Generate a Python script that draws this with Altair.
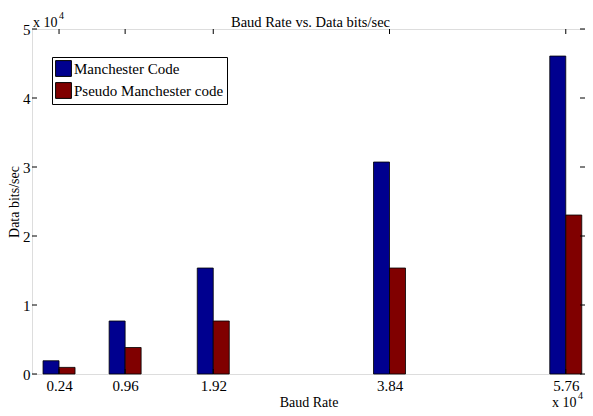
import altair as alt
import pandas as pd

baud_rate = [0.24, 0.96, 1.92, 3.84, 5.76]          # x 10^4
manchester = [0.192, 0.768, 1.536, 3.072, 4.608]    # x 10^4
pseudo = [0.096, 0.384, 0.768, 1.536, 2.304]        # x 10^4
series_names = ["Manchester Code", "Pseudo Manchester code"]
series_colors = ["#00008F", "#800000"]
y_ticks = [0, 1, 2, 3, 4, 5]
title_text = "Baud Rate vs. Data bits/sec"

FONT = "Liberation Serif"
W, H = 553, 345

df_m = pd.DataFrame({"baud": baud_rate, "value": manchester, "series": series_names[0]})
df_p = pd.DataFrame({"baud": baud_rate, "value": pseudo, "series": series_names[1]})
df_xt = pd.DataFrame({"baud": baud_rate})
df_yt = pd.DataFrame({"v": y_ticks})
df_one = df_xt.head(1)

xscale = alt.Scale(domain=[0, 5.915], nice=False, zero=False)
yscale = alt.Scale(domain=[0, 5], nice=False)
color = alt.Color(
    "series:N",
    scale=alt.Scale(domain=series_names, range=series_colors),
    legend=alt.Legend(
        title=None, orient="none", legendX=20, legendY=28,
        symbolType="square", symbolSize=250, symbolStrokeColor="black",
        symbolStrokeWidth=1, symbolOpacity=1,
        labelFont=FONT, labelFontSize=15, labelColor="black", labelOffset=2,
        strokeColor="black", fillColor="white", padding=3, rowPadding=1,
    ),
)

xaxis = alt.Axis(values=baud_rate, format=".2f", grid=False, domain=False, ticks=False,
                 labelFont=FONT, labelFontSize=15, labelColor="black", labelPadding=4,
                 title="Baud Rate", titleFont=FONT, titleFontSize=14, titleFontWeight="normal",
                 titleColor="black", titlePadding=2)
yaxis = alt.Axis(values=y_ticks, format="d", grid=False, domain=False, ticks=False,
                 labelFont=FONT, labelFontSize=15, labelColor="black", labelPadding=2,
                 title="Data bits/sec", titleFont=FONT, titleFontSize=14, titleFontWeight="normal",
                 titleColor="black", titlePadding=1)

bars_m = alt.Chart(df_m).mark_bar(width=16, xOffset=-8, stroke="black", strokeWidth=0.8).encode(
    x=alt.X("baud:Q", scale=xscale, axis=xaxis),
    y=alt.Y("value:Q", scale=yscale, axis=yaxis),
    color=color,
)
bars_p = alt.Chart(df_p).mark_bar(width=16, xOffset=8, stroke="black", strokeWidth=0.8).encode(
    x=alt.X("baud:Q", scale=xscale),
    y=alt.Y("value:Q", scale=yscale),
    color=color,
)

tick_style = dict(color="black", strokeWidth=1)
xt_bottom = alt.Chart(df_xt).mark_rule(**tick_style).encode(
    x=alt.X("baud:Q", scale=xscale), y=alt.value(H), y2=alt.value(H - 5))
xt_top = alt.Chart(df_xt).mark_rule(**tick_style).encode(
    x=alt.X("baud:Q", scale=xscale), y=alt.value(0), y2=alt.value(5))
yt_left = alt.Chart(df_yt).mark_rule(**tick_style).encode(
    y=alt.Y("v:Q", scale=yscale), x=alt.value(0), x2=alt.value(5))
yt_right = alt.Chart(df_yt).mark_rule(**tick_style).encode(
    y=alt.Y("v:Q", scale=yscale), x=alt.value(W), x2=alt.value(W - 5))

txt = dict(font=FONT, color="black", align="left", baseline="alphabetic")
title_mark = alt.Chart(df_one).mark_text(
    text=title_text, fontSize=14.5, font=FONT, color="black", align="center",
    baseline="alphabetic").encode(x=alt.value(W / 2 + 2), y=alt.value(-2))
exp_tl = alt.Chart(df_one).mark_text(text="x 10", fontSize=14, **txt).encode(
    x=alt.value(1), y=alt.value(-2))
exp_tl_sup = alt.Chart(df_one).mark_text(text="4", fontSize=10, **txt).encode(
    x=alt.value(27), y=alt.value(-10))
exp_br = alt.Chart(df_one).mark_text(text="x 10", fontSize=14, **txt).encode(
    x=alt.value(520), y=alt.value(378))
exp_br_sup = alt.Chart(df_one).mark_text(text="4", fontSize=10, **txt).encode(
    x=alt.value(546), y=alt.value(370))

chart = alt.layer(
    bars_m, bars_p, xt_bottom, xt_top, yt_left, yt_right,
    title_mark, exp_tl, exp_tl_sup, exp_br, exp_br_sup,
).properties(
    width=W, height=H,
    autosize=alt.AutoSizeParams(type="none"),
    padding={"left": 24, "top": 21, "right": 0, "bottom": 37},
).configure_view(stroke="black", strokeWidth=1).configure(background="white", font=FONT)

chart.save("out.html", embed_options={"renderer": "svg", "actions": False})
